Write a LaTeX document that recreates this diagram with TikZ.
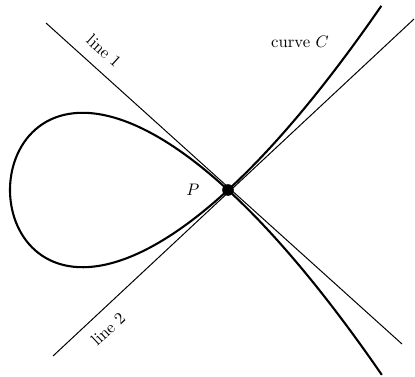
\documentclass[tikz,border=0pt]{standalone}
\begin{document}
\begin{tikzpicture}[x=0.6pt,y=-0.6pt,
  tline/.style={line width=0.6pt},
  curveline/.style={line width=1.25pt},
  lbl/.style={inner sep=0pt}]
\useasboundingbox (0,0) rectangle (415,376);
\coordinate (l1a) at (46,23);
\coordinate (l1b) at (402,344);
\coordinate (l2a) at (53,356);
\coordinate (l2b) at (414,19);
\draw[tline] (l1a) -- (l1b);
\draw[tline] (l2a) -- (l2b);
\draw[curveline] plot[domain=-1.306:1.306, samples=120, smooth]
  ({228-218*(1-\x*\x)}, {190-200.6*\x*(\x*\x-1)});
\node[circle, fill=black, inner sep=0pt, minimum size=7pt] (P) at (228,190) {};
\node[lbl] (Plabel) at (193,190) {$P$};
\node[lbl, rotate=-42] (line1) at (104,51) {line 1};
\node[lbl, rotate=43] (line2) at (108,329) {line 2};
\node[lbl] (curveC) at (300,42) {curve $C$};
\end{tikzpicture}
\end{document}
